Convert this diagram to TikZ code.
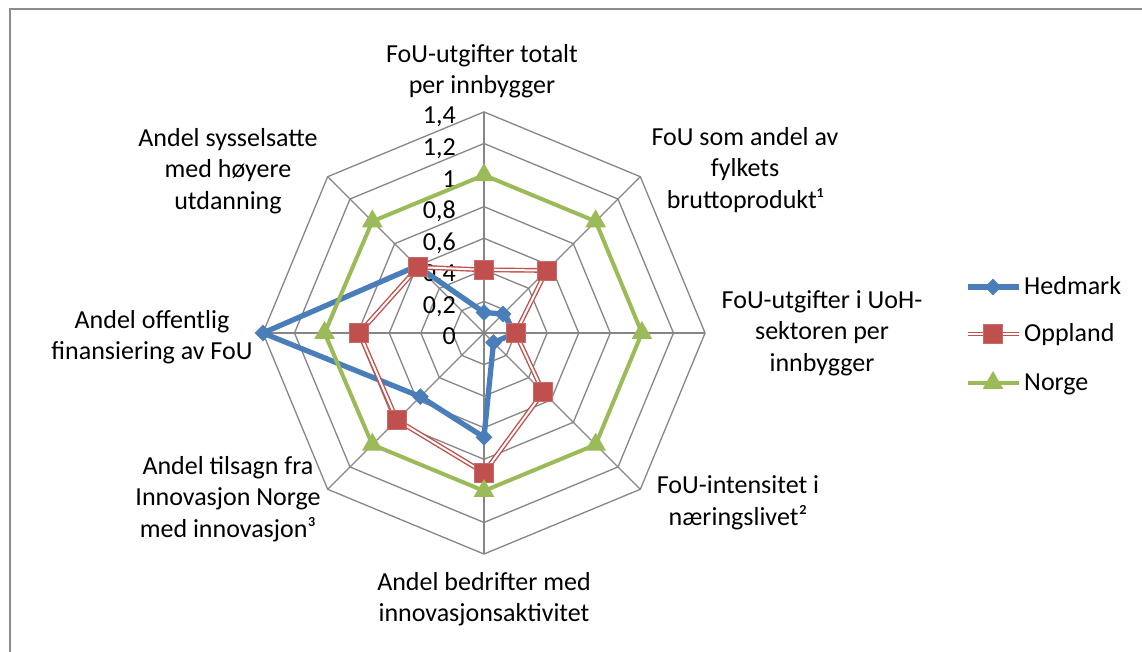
\documentclass[tikz,border=0pt]{standalone}
\usepackage{fontspec}
\setmainfont{Carlito}
\usetikzlibrary{shapes.geometric,positioning}

\definecolor{hedblue}{HTML}{4A7EBB}
\definecolor{oppred}{HTML}{C0504D}
\definecolor{norgreen}{HTML}{9BBB59}
\definecolor{gridgray}{HTML}{868686}
\definecolor{framegray}{HTML}{8C8C8C}
\def\chartr{157.9}

\begin{document}
\begin{tikzpicture}[x=1pt,y=1pt,font=\fontsize{26}{31.5}\selectfont]
    \tikzstyle{every node}=[inner sep=0pt]
    \tikzstyle{gridline}=[draw=gridgray,line width=1.3pt]
    \tikzstyle{axislabel}=[align=center]
    \tikzstyle{tick}=[anchor=base east]
    \tikzstyle{hedline}=[draw=hedblue,line width=5.3pt,line join=round]
    \tikzstyle{oppline}=[draw=oppred,line width=1.4pt,double=white,double distance=2pt]
    \tikzstyle{norline}=[draw=norgreen,line width=4pt]
    \tikzstyle{hedmark}=[diamond,fill=hedblue,minimum size=17pt]
    \tikzstyle{oppmark}=[rectangle,fill=oppred,draw=oppred!85!white,line width=0.8pt,minimum size=19pt]
    \tikzstyle{normark}=[regular polygon,regular polygon sides=3,fill=norgreen,minimum size=24pt]
    \tikzstyle{legtext}=[anchor=base west]

    \useasboundingbox (-484,-319) rectangle (658,333);
    \fill[white] (-484,-319) rectangle (658,333);
    \draw[framegray,line width=2pt] (-473.5,-319) -- (-473.5,323.5) -- (658,323.5);

    \coordinate (o) at (0,0);
    \foreach \k in {1,...,7}
        \draw[gridline] (90:\k*0.2*\chartr) \foreach \a in {45,0,...,-225} { -- (\a:\k*0.2*\chartr) } -- cycle;
    \foreach \a [count=\i] in {90,45,...,-225} {
        \coordinate (s\i) at (\a:1.4*\chartr);
        \draw[gridline] (o) -- (s\i);
    }

    \foreach \v/\t [count=\i] in {0/0,0.2/{0,2},0.4/{0,4},0.6/{0,6},0.8/{0,8},1/1,1.2/{1,2},1.4/{1,4}}
        \node[tick] (t\i) at (-28,\v*\chartr-12) {\t};

    \node[axislabel] (l1) at (-2,262) {FoU-utgifter totalt\\per innbygger};
    \node[axislabel] (l2) at (261,163) {FoU som andel av\\fylkets\\bruttoprodukt¹};
    \node[axislabel] (l3) at (338,0) {FoU-utgifter i UoH-\\sektoren per\\innbygger};
    \node[axislabel] (l4) at (254,-170) {FoU-intensitet i\\næringslivet²};
    \node[axislabel] (l5) at (0,-266) {Andel bedrifter med\\innovasjonsaktivitet};
    \node[axislabel] (l6) at (-256,-166) {Andel tilsagn fra\\Innovasjon Norge\\med innovasjon³};
    \node[axislabel] (l7) at (-332,-4) {Andel offentlig\\finansiering av FoU};
    \node[axislabel] (l8) at (-256,162) {Andel sysselsatte\\med høyere\\utdanning};

    \foreach \v [count=\i] in {0.13,0.17,0.2,0.085,0.66,0.57,1.4,0.6}
        \coordinate (h\i) at ({135-45*\i}:\v*\chartr);
    \foreach \v [count=\i] in {0.4,0.56,0.2,0.53,0.885,0.78,0.79,0.59}
        \coordinate (p\i) at ({135-45*\i}:\v*\chartr);
    \foreach \v [count=\i] in {1,1,1,1,1,1,1.01,1}
        \coordinate (n\i) at ({135-45*\i}:\v*\chartr);

    \draw[hedline] (h1) -- (h2) -- (h3) -- (h4) -- (h5) -- (h6) -- (h7) -- (h8) -- cycle;
    \foreach \i in {1,...,8} \node[hedmark] (hm\i) at (h\i) {};
    \draw[oppline] (p1) -- (p2) -- (p3) -- (p4) -- (p5) -- (p6) -- (p7) -- (p8) -- cycle;
    \foreach \i in {1,...,8} \node[oppmark] (pm\i) at (p\i) {};
    \draw[norline] (n1) -- (n2) -- (n3) -- (n4) -- (n5) -- (n6) -- (n7) -- (n8) -- cycle;
    \foreach \i in {1,...,8} \node[normark] (nm\i) at (n\i) {};

    \coordinate (lha) at (484,46);
    \coordinate (lhb) at (535,46);
    \draw[hedline] (lha) -- (lhb);
    \node[hedmark] (lhm) at (509,46) {};
    \node[legtext] (lht) at (540,38) {Hedmark};

    \coordinate (lpa) at (484,-1);
    \coordinate (lpb) at (535,-1);
    \draw[oppline] (lpa) -- (lpb);
    \node[oppmark] (lpm) at (509,-1) {};
    \node[legtext] (lpt) at (540,-9) {Oppland};

    \coordinate (lna) at (484,-50);
    \coordinate (lnb) at (535,-50);
    \draw[norline] (lna) -- (lnb);
    \node[normark] (lnm) at (509,-50) {};
    \node[legtext] (lnt) at (540,-58) {Norge};
\end{tikzpicture}
\end{document}
